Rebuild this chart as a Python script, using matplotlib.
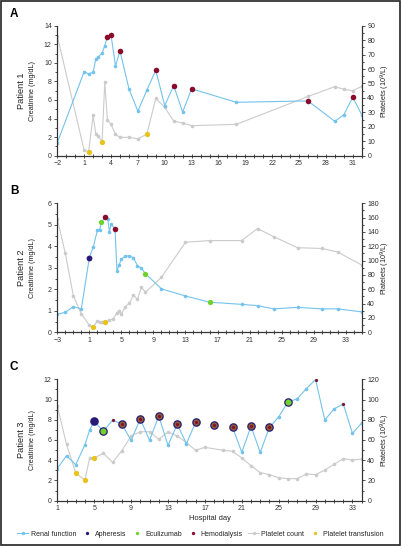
import numpy as np
import matplotlib
matplotlib.use("Agg")
import matplotlib.pyplot as plt
from matplotlib.lines import Line2D
from matplotlib.patches import Rectangle
from matplotlib.ticker import MultipleLocator

plt.rcParams['font.family'] = ['Liberation Sans Narrow', 'Liberation Sans', 'DejaVu Sans']

# colours
BLUE = "#74c3ec"
GRAY = "#cbcbcb"
NAVY = "#2a1a78"
GREEN = "#6fd12c"
RED = "#8a0c2a"
YELLOW = "#e9c21a"
BROWN = "#8a6030"

# ---- Patient 1 ----
cr_days_a = [-2, 1, 1.5, 2, 2.3, 2.6, 3, 3.3, 3.6, 4, 4.5, 5, 6, 7, 8, 9, 10, 11, 12, 13, 18, 26, 29, 30, 31, 32]
cr_a = [1.4, 9.05, 8.8, 9.0, 10.4, 10.65, 11.05, 11.85, 12.8, 13.0, 9.65, 11.3, 7.2, 4.8, 7.05, 9.2, 5.4,
        7.55, 4.7, 7.2, 5.75, 5.9, 3.7, 4.4, 6.3, 4.4]
plt_days_a = [-2, 1, 1.5, 2, 2.3, 2.6, 3, 3.3, 3.6, 4, 4.5, 5, 6, 7, 8, 9, 10, 11, 12, 13, 18, 26, 29, 30, 31, 32]
plt_a = [82.8, 3.7, 2.8, 27.9, 15.0, 13.6, 9.7, 50.8, 24.7, 21.7, 14.8, 12.7, 12.7, 11.8, 14.8, 39.7, 33.5,
         24.0, 22.6, 20.8, 21.7, 41.0, 47.8, 46.0, 45.0, 48.0]
apher_a = []
ecu_a = []
hd_a = [3.6, 4, 5, 9, 11, 13, 26, 31]
transf_a = [1.5, 3, 8]

# ---- Patient 2 ----
cr_days_b = [-3, -2, -1, 0, 1, 1.5, 2, 2.3, 2.5, 3, 3.3, 3.5, 3.7, 4.2, 4.45, 4.7, 5, 5.5, 6, 6.5, 7, 7.5,
             8, 10, 13, 16, 20, 22, 24, 27, 30, 32, 35]
cr_b = [0.84, 0.93, 1.19, 1.09, 3.47, 3.98, 4.74, 4.78, 5.12, 5.36, 5.27, 4.68, 5.02, 4.82, 2.85, 3.13, 3.40,
        3.55, 3.55, 3.47, 3.10, 2.98, 2.73, 2.02, 1.69, 1.40, 1.30, 1.24, 1.09, 1.16, 1.09, 1.09, 0.95]
plt_days_b = [-3, -2, -1, 0, 1, 1.5, 2, 2.3, 2.6, 3, 3.5, 4, 4.4, 4.7, 5, 5.5, 6, 6.5, 7, 7.5, 8, 10, 13, 16,
              20, 22, 24, 27, 30, 32, 35]
plt_b = [158, 110, 51, 25.6, 9.8, 7.4, 16, 15, 14, 14, 16.5, 19, 26.5, 30, 25.6, 35.8, 40.5, 52, 46, 62.8,
         55.8, 76.7, 125.6, 128, 128, 144.7, 133.5, 118, 117, 112, 94]
apher_b = [1]
ecu_b = [2.5, 8, 16]
hd_b = [3, 4.2]
transf_b = [1.5, 3]

# ---- Patient 3 ----
cr_days_c = [1, 2, 3, 4, 4.5, 5, 6, 7, 8, 9, 10, 11, 12, 13, 14, 15, 16, 17, 18, 19, 20, 21, 22, 23, 24, 25,
             26, 27, 28, 29, 30, 31, 32, 33, 34]
cr_c = [3.17, 4.45, 3.56, 5.54, 6.96, 7.85, 6.86, 7.98, 7.55, 5.97, 8.08, 5.97, 8.37, 5.47, 7.55, 5.64, 7.75,
        np.nan, 7.45, np.nan, 7.25, 4.78, 7.35, 4.78, 7.25, 8.28, 9.76, 10.06, 11.08, 11.97, 7.98, 9.07, 9.56,
        6.66, 7.68]
plt_days_c = [1, 2, 3, 4, 4.5, 5, 6, 7, 8, 9, 10, 11, 12, 13, 14, 15, 16, 17, 19, 20, 21, 22, 23, 24, 25, 26,
              27, 28, 29, 30, 31, 32, 33, 34]
plt_c = [93.6, 55.7, 27.4, 20.4, 42.2, 42.2, 46.8, 37.9, 49.5, 64, 68.2, 68.2, 60.7, 67.9, 64, 57.4, 49.8,
         52.8, 49.8, 48.8, 42.2, 34.6, 27.7, 25.7, 22.7, 21.8, 21.8, 26.4, 25.7, 30.3, 35.9, 41.5, 40.2, 41.2]
apher_c = [5, 6, 8, 10, 12, 14, 16, 18, 20, 22, 24, 26]
ecu_c = [6, 26]
hd_c = [7, 8, 10, 12, 14, 16, 18, 20, 22, 24, 29, 32]
transf_c = [3, 4, 5]


def pick(days, vals, sel):
    days = np.asarray(days, float)
    vals = np.asarray(vals, float)
    m = np.isin(days, sel)
    return days[m], vals[m]


W, H = 401, 546
fig = plt.figure(figsize=(W / 100, H / 100), dpi=100)
TS = 5.0


def panel(rect, letter, pname, cr_days, cr, plt_days, pl, apher, ecu, hd, transf,
          xlim, xticks, ylim, ystep, y2lim, y2step, small_hd=False, xlabel=None):
    l, top, r, bot = rect
    ax = fig.add_axes([l / W, 1 - bot / H, (r - l) / W, (bot - top) / H])
    ax2 = ax.twinx()
    ax.set_zorder(ax2.get_zorder() + 1)
    ax.patch.set_visible(False)

    ax2.plot(plt_days, pl, color=GRAY, lw=0.8, marker="o", ms=2.6, mec="none", zorder=2)
    tx, ty = pick(plt_days, pl, transf)
    ax2.plot(tx, ty, ls="none", marker="o", ms=3.8, color=YELLOW, mec="none", zorder=3)

    ax.plot(cr_days, cr, color=BLUE, lw=0.8, marker="o", ms=2.6, mec="none", zorder=2)
    if small_hd:
        # patient 3: apheresis+dialysis days drawn as ring markers
        ax_, ay_ = pick(cr_days, cr, apher)
        ax.plot(ax_, ay_, ls="none", marker="o", ms=6.2, color=NAVY, mec="none", zorder=3)
        both = [d for d in apher if d in hd]
        bx, by = pick(cr_days, cr, both)
        ax.plot(bx, by, ls="none", marker="o", ms=4.4, color=BROWN, mec="none", zorder=4)
        ex, ey = pick(cr_days, cr, ecu)
        ax.plot(ex, ey, ls="none", marker="o", ms=4.4, color=GREEN, mec="none", zorder=4)
        hx, hy = pick(cr_days, cr, hd)
        ax.plot(hx, hy, ls="none", marker="o", ms=2.2, color=RED, mec="none", zorder=5)
    else:
        ax_, ay_ = pick(cr_days, cr, apher)
        ax.plot(ax_, ay_, ls="none", marker="o", ms=4.2, color=NAVY, mec="none", zorder=3)
        ex, ey = pick(cr_days, cr, ecu)
        ax.plot(ex, ey, ls="none", marker="o", ms=3.8, color=GREEN, mec="none", zorder=3)
        hx, hy = pick(cr_days, cr, hd)
        ax.plot(hx, hy, ls="none", marker="o", ms=4.0, color=RED, mec="none", zorder=3)

    ax.set_xlim(*xlim)
    ax.set_xticks(xticks)
    ax.xaxis.set_minor_locator(MultipleLocator(1))
    ax.set_ylim(*ylim)
    ax.yaxis.set_major_locator(MultipleLocator(ystep))
    ax2.set_ylim(*y2lim)
    ax2.yaxis.set_major_locator(MultipleLocator(y2step))
    ax2.yaxis.set_minor_locator(MultipleLocator(y2step / 2))
    ax.yaxis.set_minor_locator(MultipleLocator(ystep / 2))

    for a in (ax, ax2):
        for s in a.spines.values():
            s.set_color("#333333")
            s.set_linewidth(0.8)
        a.spines["top"].set_visible(False)
        a.tick_params(labelsize=TS, colors="#333333", width=0.6, length=2.5, pad=1.5)
        a.tick_params(which="minor", width=0.5, length=1.5)
    ax.tick_params(axis="x", which="both", direction="inout")
    ax.tick_params(axis="x", length=3.5)
    ax.tick_params(axis="x", which="minor", length=2.5)

    ymid = 1 - (top + bot) / 2 / H
    fig.text(22 / W, ymid, pname, rotation=90, ha="center", va="center", fontsize=6.6, color="#222222")
    fig.text(33 / W, ymid, "Creatinine (mg/dL)", rotation=90, ha="center", va="center",
             fontsize=5.2, color="#222222")
    fig.text(385 / W, ymid, "Platelets (10$^9$/L)", rotation=90, ha="center", va="center",
             fontsize=5.2, color="#222222")
    if xlabel:
        ax.set_xlabel(xlabel, fontsize=5.4, labelpad=2, color="#222222")
    fig.text(10 / W, 1 - (top - 12) / H, letter, fontsize=8.5, fontweight="bold",
             family=["Liberation Sans", "DejaVu Sans"], ha="left", va="center")
    return ax


panel((57.3, 25.7, 361.7, 155.7), "A", "Patient 1", cr_days_a, cr_a, plt_days_a, plt_a,
      apher_a, ecu_a, hd_a, transf_a, (-2, 32), list(range(-2, 33, 3)), (0, 14), 2, (0, 90), 10)
panel((57.3, 203.3, 361.7, 332.3), "B", "Patient 2", cr_days_b, cr_b, plt_days_b, plt_b,
      apher_b, ecu_b, hd_b, transf_b, (-3, 35), list(range(-3, 35, 4)), (0, 6), 1, (0, 180), 20)
panel((57.3, 379.3, 361.7, 500.7), "C", "Patient 3", cr_days_c, cr_c, plt_days_c, plt_c,
      apher_c, ecu_c, hd_c, transf_c, (1, 34), list(range(1, 35, 4)), (0, 12), 2, (0, 120), 20,
      small_hd=True, xlabel="Hospital day")

handles = [
    Line2D([], [], color=BLUE, lw=0.8, marker="o", ms=2.4, mec="none"),
    Line2D([], [], ls="none", color=NAVY, marker="o", ms=2.4, mec="none"),
    Line2D([], [], ls="none", color=GREEN, marker="o", ms=2.4, mec="none"),
    Line2D([], [], ls="none", color=RED, marker="o", ms=2.4, mec="none"),
    Line2D([], [], color=GRAY, lw=0.8, marker="o", ms=2.4, mec="none"),
    Line2D([], [], ls="none", color=YELLOW, marker="o", ms=2.4, mec="none"),
]
labels = ["Renal function", "Apheresis", "Eculizumab", "Hemodialysis", "Platelet count", "Platelet transfusion"]
fig.legend(handles, labels, loc="center", bbox_to_anchor=(0.5, 1 - 534 / H), ncol=6, frameon=False,
           fontsize=5.0, handlelength=1.6, handletextpad=0.3, columnspacing=0.8, borderpad=0,
           labelcolor="#222222")

fig.patches.append(Rectangle((0.002, 0.002), 0.996, 0.996, transform=fig.transFigure, fill=False,
                             lw=1.2, ec="#222222"))

fig.savefig("out.png", dpi=100)
